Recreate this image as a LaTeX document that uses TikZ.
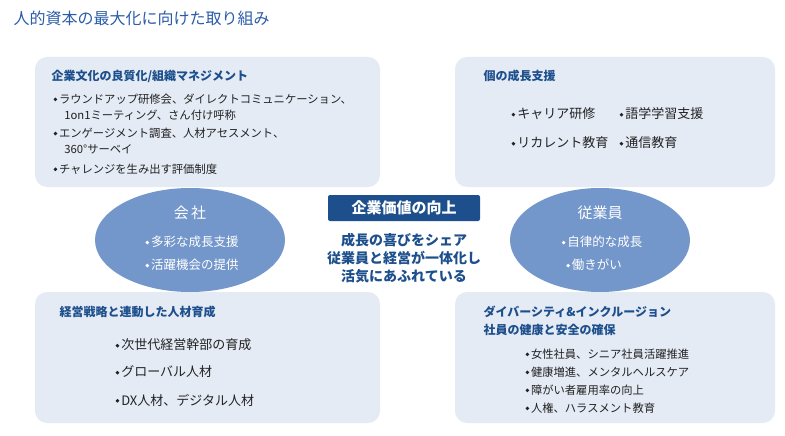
\documentclass[tikz,border=0pt]{standalone}
\usepackage{fontspec}
\setmainfont{Noto Sans CJK JP}
\usetikzlibrary{shapes.geometric}
\definecolor{panelbg}{HTML}{E4EBF5}
\definecolor{ovalblue}{HTML}{7396CB}
\definecolor{deepblue}{HTML}{1D4F8C}
\definecolor{titleblue}{HTML}{2A5CA8}
\definecolor{inktext}{HTML}{222222}
\newcommand{\dotmark}{\raisebox{0.18em}{\tikz\fill (0,0) circle (1.9pt);}\hspace{0.15em}}

\begin{document}
\begin{tikzpicture}[x=1pt, y=-1pt,
    panel/.style={fill=panelbg, draw=none, rounded corners=12pt},
    oval/.style={ellipse, fill=ovalblue, draw=none, minimum width=190pt, minimum height=104pt},
    head/.style={anchor=west, font=\fontsize{12}{14}\selectfont\bfseries, text=deepblue},
    item/.style={anchor=west, font=\fontsize{11.3}{16}\selectfont, text=inktext, align=left},
    big/.style={anchor=west, font=\fontsize{13}{15}\selectfont, text=inktext},
    small/.style={anchor=west, font=\fontsize{11.3}{13}\selectfont, text=inktext},
    inoval/.style={text=white, font=\fontsize{12.5}{15}\selectfont}]
            \useasboundingbox (0,0) rectangle (785,436);
            % Title
            \node (title) at (10,18) [anchor=west, font=\fontsize{16}{18}\selectfont, text=titleblue] {人的資本の最大化に向けた取り組み};

            % Panels
            \fill[panel] (35,57) rectangle (380,187);
            \fill[panel] (455,57) rectangle (775,187);
            \fill[panel] (35,292) rectangle (380,423);
            \fill[panel] (455,292) rectangle (775,423);

            % Top left
            \node (hdTL) at (48,76) [head] {企業文化の良質化/組織マネジメント};
            \node (tl1) at (50,107) [item] {\dotmark ラウンドアップ研修会、ダイレクトコミュニケーション、\\\hspace*{0.95em}1on1ミーティング、さん付け呼称};
            \node (tl2) at (50,141) [item] {\dotmark エンゲージメント調査、人材アセスメント、\\\hspace*{0.95em}360°サーベイ};
            \node (tl3) at (50,169) [item] {\dotmark チャレンジを生み出す評価制度};

            % Top right
            \node (hdTR) at (480,76) [head] {個の成長支援};
            \node (tr1) at (508,114) [big] {\dotmark キャリア研修};
            \node (tr2) at (616,114) [big] {\dotmark 語学学習支援};
            \node (tr3) at (508,143) [big] {\dotmark リカレント教育};
            \node (tr4) at (616,143) [big] {\dotmark 通信教育};

            % Bottom left
            \node (hdBL) at (56,312) [head] {経営戦略と連動した人材育成};
            \node (bl1) at (112,345) [big] {\dotmark 次世代経営幹部の育成};
            \node (bl2) at (112,372) [big] {\dotmark グローバル人材};
            \node (bl3) at (112,400) [big] {\dotmark DX人材、デジタル人材};

            % Bottom right
            \node (hdBR) at (480,312) [head] {ダイバーシティ\&インクルージョン};
            \node (hdBR2) at (480,330) [head] {社員の健康と安全の確保};
            \node (br1) at (522,354) [small] {\dotmark 女性社員、シニア社員活躍推進};
            \node (br2) at (522,372) [small] {\dotmark 健康増進、メンタルヘルスケア};
            \node (br3) at (522,390) [small] {\dotmark 障がい者雇用率の向上};
            \node (br4) at (522,408) [small] {\dotmark 人権、ハラスメント教育};

            % Ovals
            \node (company) at (190,240) [oval] {};
            \node at (190,213) [inoval, font=\fontsize{15}{17}\selectfont] {会\,社};
            \node at (192,242) [inoval] {\dotmark 多彩な成長支援};
            \node at (192,265) [inoval] {\dotmark 活躍機会の提供};
            \node (staff) at (600,240) [oval, minimum width=180pt] {};
            \node at (600,213) [inoval, font=\fontsize{15}{17}\selectfont] {従業員};
            \node at (602,242) [inoval] {\dotmark 自律的な成長};
            \node at (594,265) [inoval] {\dotmark 働きがい};

            % Center
            \node (value) at (404,208) [fill=deepblue, rounded corners=2pt, minimum width=152pt, minimum height=26pt, text=white, font=\fontsize{15}{17}\selectfont\bfseries] {企業価値の向上};
            \node (motto) at (404,258) [text=deepblue, align=center, font=\fontsize{14}{18}\selectfont\bfseries] {成長の喜びをシェア\\従業員と経営が一体化し\\活気にあふれている};
        \end{tikzpicture}
\end{document}
